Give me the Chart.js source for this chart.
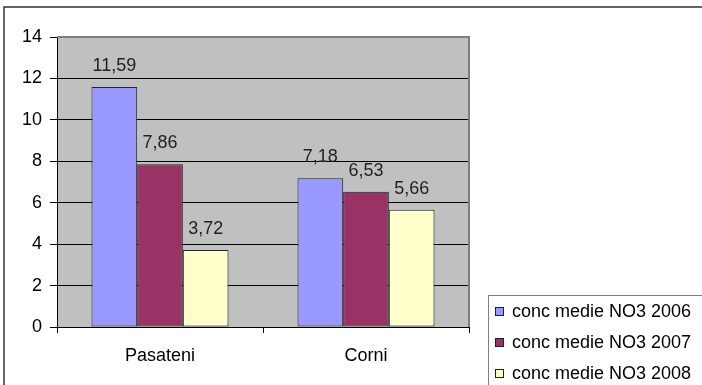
<!DOCTYPE html>
<html>
<head>
<meta charset="utf-8">
<script src="https://cdn.jsdelivr.net/npm/chart.js@4"></script>
<style>
    html, body { margin: 0; padding: 0; background: #fff; }
    #wrap { position: relative; width: 702px; height: 385px; }
</style>
</head>
<body>
<div id="wrap"><canvas id="no3Chart"></canvas></div>
<script>
// Mean NO3 concentration per site and year
const sites = ['Pasateni', 'Corni'];
const years = ['conc medie NO3 2006', 'conc medie NO3 2007', 'conc medie NO3 2008'];
const values2006 = [11.59, 7.18];
const values2007 = [7.86, 6.53];
const values2008 = [3.72, 5.66];
const yTicks = [0, 2, 4, 6, 8, 10, 12, 14];

const fillColors = ['#9999ff', '#993366', '#ffffcc'];
const FONT = '"Liberation Sans", Arial, sans-serif';

// Grey plot background and outer frame
const backdrop = {
    id: 'backdrop',
    beforeDraw(chart) {
        const { ctx, chartArea: a } = chart;
        ctx.save();
        ctx.strokeStyle = '#333';
        ctx.lineWidth = 1.5;
        ctx.beginPath();
        ctx.moveTo(4, 390);
        ctx.lineTo(4, 7);
        ctx.lineTo(705, 7);
        ctx.stroke();
        ctx.fillStyle = '#c0c0c0';
        ctx.fillRect(a.left, a.top, a.right - a.left, a.bottom - a.top);
        ctx.restore();
    },
    afterDraw(chart) {
        // grey border on top and right of the plot area
        const { ctx, chartArea: a } = chart;
        ctx.save();
        ctx.strokeStyle = '#808080';
        ctx.lineWidth = 2;
        ctx.beginPath();
        ctx.moveTo(a.left, a.top);
        ctx.lineTo(a.right, a.top);
        ctx.lineTo(a.right, a.bottom);
        ctx.stroke();
        ctx.restore();
    }
};

// Values above each bar, with decimal comma
const valueLabels = {
    id: 'valueLabels',
    afterDatasetsDraw(chart) {
        const { ctx } = chart;
        ctx.save();
        ctx.font = '18px ' + FONT;
        ctx.fillStyle = '#222';
        ctx.textAlign = 'center';
        ctx.textBaseline = 'middle';
        chart.data.datasets.forEach((ds, i) => {
            chart.getDatasetMeta(i).data.forEach((bar, j) => {
                const txt = ds.data[j].toFixed(2).replace('.', ',');
                ctx.fillText(txt, bar.x, bar.y - 21);
            });
        });
        ctx.restore();
    }
};

// Legend box at the lower right
const sideLegend = {
    id: 'sideLegend',
    afterDraw(chart) {
        const { ctx } = chart;
        ctx.save();
        ctx.strokeStyle = '#808080';
        ctx.lineWidth = 1;
        ctx.strokeRect(488.5, 295.5, 230, 120);
        ctx.font = '18px ' + FONT;
        ctx.textBaseline = 'middle';
        chart.data.datasets.forEach((ds, i) => {
            const y = 311 + i * 31;
            ctx.fillStyle = ds.backgroundColor;
            ctx.fillRect(495.5, y - 3.5, 8, 8);
            ctx.strokeStyle = '#222';
            ctx.strokeRect(495.5, y - 3.5, 8, 8);
            ctx.fillStyle = '#000';
            ctx.fillText(ds.label, 512, y + 1);
        });
        ctx.restore();
    }
};

const series = [values2006, values2007, values2008];

new Chart(document.getElementById('no3Chart'), {
    type: 'bar',
    data: {
        labels: sites,
        datasets: series.map((vals, i) => ({
            label: years[i],
            data: vals,
            backgroundColor: fillColors[i],
            borderColor: '#222',
            borderWidth: 1,
            borderSkipped: false,
            categoryPercentage: 0.665,
            barPercentage: 1
        }))
    },
    options: {
        responsive: true,
        maintainAspectRatio: false,
        animation: false,
        layout: { padding: { left: 0, top: 37, right: 233, bottom: 0 } },
        plugins: {
            legend: { display: false },
            tooltip: { enabled: false }
        },
        scales: {
            x: {
                afterFit(scale) { scale.height = 58; },
                grid: {
                    offset: true,
                    drawOnChartArea: false,
                    drawTicks: true,
                    tickLength: 6,
                    color: '#000'
                },
                border: { display: true, color: '#000', width: 1 },
                ticks: {
                    color: '#000',
                    padding: 12,
                    font: { family: FONT, size: 18 }
                }
            },
            y: {
                min: 0,
                max: 14,
                afterFit(scale) { scale.width = 57; },
                afterBuildTicks(scale) {
                    scale.ticks = yTicks.map(v => ({ value: v }));
                },
                grid: {
                    color: ctx => ctx.tick && ctx.tick.value === 14 ? '#808080' : '#000',
                    tickColor: '#000',
                    tickLength: 7,
                    lineWidth: 1
                },
                border: { display: true, color: '#000', width: 1 },
                ticks: {
                    color: '#000',
                    padding: 8,
                    font: { family: FONT, size: 18 }
                }
            }
        }
    },
    plugins: [backdrop, valueLabels, sideLegend]
});
</script>
</body>
</html>
